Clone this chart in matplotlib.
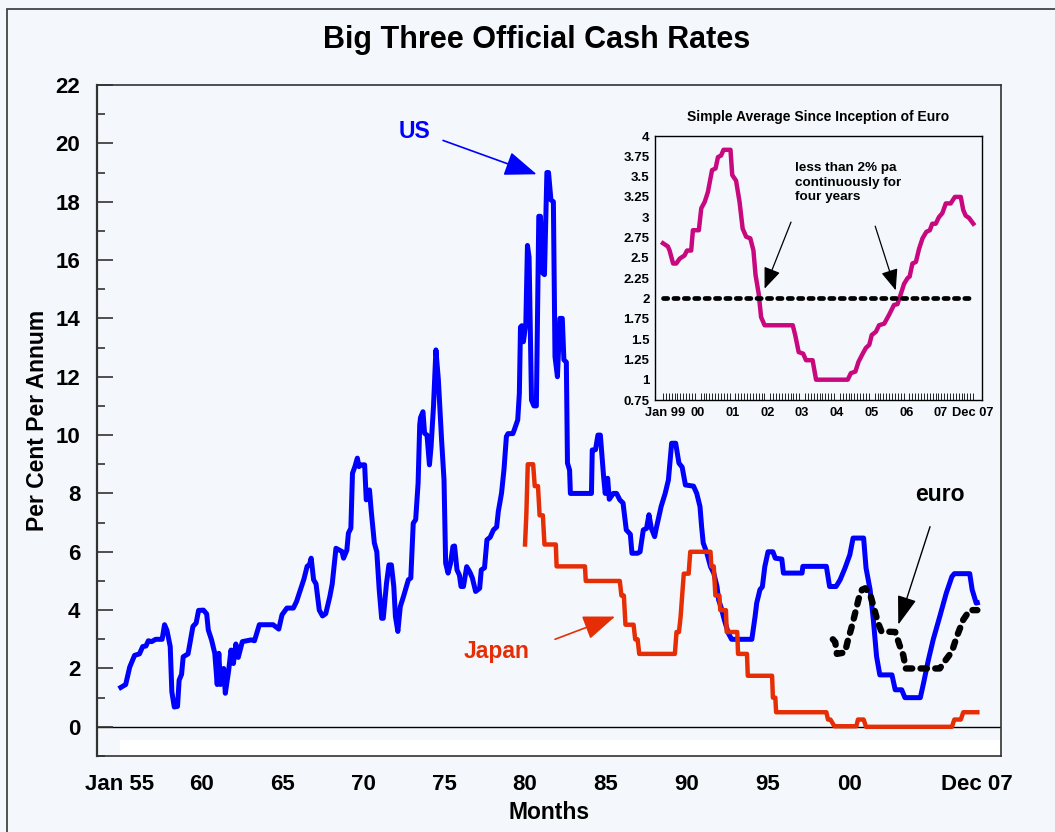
import matplotlib
matplotlib.use("Agg")
import matplotlib.pyplot as plt
from matplotlib.patches import Rectangle
from matplotlib.ticker import FixedLocator

plt.rcParams["font.family"] = ["Liberation Sans", "DejaVu Sans"]
plt.rcParams["font.weight"] = "bold"

BG = "#F4F8FC"
BLUE = "#0000FF"
RED = "#E62E06"
MAGENTA = "#C8087E"

# ---- data (decimal year, per cent) ----
us_t = [1955.05, 1955.35, 1955.6, 1955.9, 1956.2, 1956.4, 1956.6, 1956.75, 1956.95, 1957.2,
        1957.6, 1957.75, 1957.9, 1958.1, 1958.2, 1958.35, 1958.55, 1958.65, 1958.8, 1958.9,
        1959.2, 1959.35, 1959.5, 1959.7, 1959.85, 1960.15, 1960.35, 1960.45, 1960.65, 1960.85,
        1961.0, 1961.1, 1961.2, 1961.4, 1961.5, 1961.7, 1961.85, 1962.0, 1962.15, 1962.3,
        1962.55, 1963.1, 1963.3, 1963.6, 1964.45, 1964.8, 1965.0, 1965.3, 1965.7, 1965.9,
        1966.1, 1966.35, 1966.55, 1966.7, 1966.8, 1966.95, 1967.1, 1967.3, 1967.5, 1967.7,
        1967.95, 1968.1, 1968.33, 1968.7, 1968.8, 1969.0, 1969.1, 1969.25, 1969.35, 1969.5,
        1969.65, 1969.75, 1969.9, 1970.1, 1970.2, 1970.4, 1970.5, 1970.7, 1970.85, 1971.0,
        1971.15, 1971.25, 1971.45, 1971.6, 1971.75, 1971.9, 1972.0, 1972.15, 1972.3, 1972.5,
        1972.8, 1972.95, 1973.1, 1973.25, 1973.4, 1973.5, 1973.55, 1973.7, 1973.8, 1973.95,
        1974.1, 1974.2, 1974.35, 1974.5, 1974.65, 1974.85, 1975.0, 1975.1, 1975.25, 1975.4,
        1975.55, 1975.65, 1975.8, 1975.95, 1976.05, 1976.2, 1976.4, 1976.6, 1976.75, 1976.95,
        1977.2, 1977.3, 1977.5, 1977.65, 1977.85, 1978.05, 1978.25, 1978.35, 1978.55, 1978.7,
        1978.85, 1978.95, 1979.25, 1979.35, 1979.55, 1979.65, 1979.72, 1979.8, 1979.9, 1980.05,
        1980.15, 1980.25, 1980.4, 1980.55, 1980.7, 1980.85, 1980.95, 1981.1, 1981.2, 1981.35,
        1981.45, 1981.6, 1981.75, 1981.85, 1982.0, 1982.15, 1982.3, 1982.4, 1982.55, 1982.62,
        1982.75, 1982.8, 1984.1, 1984.15, 1984.35, 1984.5, 1984.65, 1984.85, 1984.95, 1985.1,
        1985.2, 1985.45, 1985.65, 1985.85, 1986.05, 1986.25, 1986.5, 1986.6, 1986.95, 1987.1,
        1987.3, 1987.5, 1987.65, 1987.8, 1988.0, 1988.1, 1988.4, 1988.65, 1988.85, 1989.05,
        1989.3, 1989.5, 1989.7, 1989.9, 1990.4, 1990.6, 1990.8, 1990.9, 1991.0, 1991.2,
        1991.45, 1991.65, 1991.85, 1991.95, 1992.1, 1992.3, 1992.55, 1992.75, 1994.0, 1994.2,
        1994.3, 1994.5, 1994.65, 1994.8, 1995.0, 1995.3, 1995.45, 1995.85, 1995.95, 1997.1,
        1997.15, 1998.6, 1998.8, 1999.2, 1999.45, 1999.75, 2000.05, 2000.25, 2000.9, 2001.05,
        2001.3, 2001.5, 2001.7, 2001.9, 2002.65, 2002.85, 2003.25, 2003.45, 2004.4, 2004.6,
        2004.9, 2005.2, 2005.6, 2006.0, 2006.35, 2006.5, 2007.45, 2007.6, 2007.85, 2007.92]
us_v = [1.35, 1.45, 2.05, 2.45, 2.5, 2.75, 2.77, 2.95, 2.92, 3.0,
        3.0, 3.5, 3.3, 2.75, 1.2, 0.68, 0.7, 1.6, 1.8, 2.4,
        2.5, 2.98, 3.44, 3.56, 3.99, 4.0, 3.87, 3.32, 2.98, 2.52,
        1.45, 2.52, 1.45, 2.0, 1.15, 1.9, 2.63, 2.17, 2.84, 2.38,
        2.92, 2.98, 2.95, 3.5, 3.5, 3.35, 3.84, 4.07, 4.07, 4.3,
        4.64, 5.06, 5.5, 5.57, 5.78, 5.04, 4.9, 4.0, 3.8, 3.88,
        4.46, 4.9, 6.12, 6.01, 5.78, 6.05, 6.64, 6.81, 8.69, 8.92,
        9.21, 8.92, 8.98, 8.98, 7.78, 8.12, 7.44, 6.3, 6.0, 4.7,
        3.72, 3.72, 4.92, 5.55, 5.55, 4.81, 3.78, 3.27, 4.12, 4.47,
        5.04, 5.1, 6.98, 7.1, 8.35, 10.35, 10.6, 10.8, 10.06, 10.0,
        8.98, 9.6, 10.98, 12.92, 11.9, 9.83, 8.46, 5.61, 5.27, 5.6,
        6.18, 6.2, 5.38, 5.2, 4.81, 4.81, 5.49, 5.3, 5.1, 4.64,
        4.75, 5.38, 5.45, 6.41, 6.5, 6.75, 6.85, 7.38, 8.01, 8.81,
        9.95, 10.05, 10.05, 10.2, 10.52, 11.43, 13.7, 13.75, 13.2, 13.83,
        16.5, 16.1, 11.2, 11.0, 11.0, 17.5, 17.5, 15.55, 15.5, 19.0,
        19.0, 18.06, 18.0, 12.69, 12.0, 14.0, 14.0, 12.58, 12.5, 9.04,
        8.8, 8.0, 8.0, 9.49, 9.5, 10.0, 10.0, 8.58, 8.0, 8.52,
        7.8, 8.0, 8.0, 7.78, 7.67, 6.75, 6.6, 5.95, 5.95, 6.0,
        6.75, 6.8, 7.27, 6.8, 6.52, 6.8, 7.55, 8.0, 8.46, 9.72,
        9.72, 9.04, 8.9, 8.29, 8.25, 8.0, 7.55, 6.86, 6.3, 6.0,
        5.49, 5.27, 4.81, 4.35, 4.1, 3.67, 3.21, 3.0, 3.0, 3.78,
        4.24, 4.7, 4.8, 5.49, 6.0, 6.0, 5.78, 5.75, 5.27, 5.27,
        5.5, 5.5, 4.81, 4.81, 5.04, 5.44, 5.9, 6.47, 6.47, 5.44,
        4.7, 3.67, 2.41, 1.78, 1.78, 1.27, 1.27, 1.0, 1.0, 1.5,
        2.3, 3.0, 3.78, 4.58, 5.15, 5.25, 5.25, 4.7, 4.24, 4.25]

japan_t = [1980.0, 1980.08, 1980.17, 1980.5, 1980.6, 1980.8, 1980.9, 1981.1, 1981.2, 1981.9,
           1981.95, 1983.7, 1983.75, 1985.85, 1985.95, 1986.1, 1986.2, 1986.7, 1986.8, 1986.95,
           1987.05, 1989.25, 1989.35, 1989.5, 1989.6, 1989.7, 1989.8, 1990.1, 1990.2, 1991.45,
           1991.5, 1991.65, 1991.75, 1992.0, 1992.05, 1992.4, 1992.45, 1993.1, 1993.15, 1993.7,
           1993.75, 1995.25, 1995.3, 1995.45, 1995.5, 1998.6, 1998.7, 1998.85, 1999.1, 2000.45,
           2000.55, 2000.9, 2001.05, 2006.35, 2006.5, 2006.9, 2007.05, 2007.92]
japan_v = [6.25, 7.25, 9.0, 9.0, 8.25, 8.25, 7.25, 7.25, 6.25, 6.25,
           5.5, 5.5, 5.0, 5.0, 4.5, 4.5, 3.5, 3.5, 3.0, 3.0,
           2.5, 2.5, 3.25, 3.25, 3.75, 4.5, 5.25, 5.25, 6.0, 6.0,
           5.5, 5.5, 4.5, 4.5, 4.0, 4.0, 3.25, 3.25, 2.5, 2.5,
           1.75, 1.75, 1.0, 1.0, 0.5, 0.5, 0.25, 0.25, 0.02, 0.02,
           0.25, 0.25, 0.0, 0.0, 0.25, 0.25, 0.5, 0.5]

euro_t = [1999.0, 1999.15, 1999.25, 1999.75, 1999.9, 2000.05, 2000.2, 2000.4, 2000.6, 2000.8,
          2001.0, 2001.3, 2001.6, 2001.8, 2002.0, 2002.85, 2003.15, 2003.35, 2003.5, 2005.6,
          2005.9, 2006.35, 2006.65, 2007.05, 2007.45, 2007.92]
euro_v = [3.0, 2.9, 2.5, 2.55, 2.9, 3.2, 3.5, 3.95, 4.4, 4.7,
          4.75, 4.55, 3.95, 3.55, 3.27, 3.25, 2.75, 2.45, 2.0, 2.0,
          2.24, 2.58, 3.09, 3.67, 4.0, 4.0]

# simple average of the three since Jan 99 (inset)
avg_t = [1999.0, 1999.14, 1999.19, 1999.29, 1999.38, 1999.48, 1999.62, 1999.69, 1999.81, 1999.86,
         2000.03, 2000.1, 2000.2, 2000.29, 2000.41, 2000.51, 2000.58, 2000.67, 2000.74, 2000.94,
         2000.99, 2001.1, 2001.2, 2001.29, 2001.39, 2001.51, 2001.6, 2001.66, 2001.75, 2001.82,
         2001.92, 2002.73, 2002.8, 2002.9, 2003.03, 2003.11, 2003.3, 2003.4, 2004.31, 2004.4,
         2004.53, 2004.62, 2004.74, 2004.83, 2004.93, 2005.0, 2005.12, 2005.21, 2005.36, 2005.5,
         2005.64, 2005.74, 2005.84, 2005.93, 2006.03, 2006.09, 2006.17, 2006.27, 2006.36, 2006.46,
         2006.57, 2006.67, 2006.74, 2006.84, 2006.93, 2007.03, 2007.13, 2007.27, 2007.39, 2007.56,
         2007.63, 2007.7, 2007.8, 2007.92]
avg_v = [2.68, 2.64, 2.59, 2.43, 2.43, 2.49, 2.53, 2.59, 2.59, 2.84,
         2.84, 3.11, 3.19, 3.31, 3.58, 3.6, 3.74, 3.76, 3.83, 3.83,
         3.52, 3.45, 3.19, 2.86, 2.76, 2.74, 2.59, 2.29, 2.06, 1.77,
         1.67, 1.67, 1.55, 1.34, 1.32, 1.24, 1.24, 1.0, 1.0, 1.08,
         1.1, 1.22, 1.32, 1.39, 1.43, 1.55, 1.59, 1.67, 1.69, 1.8,
         1.92, 1.93, 2.06, 2.18, 2.25, 2.27, 2.43, 2.45, 2.61, 2.74,
         2.82, 2.84, 2.92, 2.92, 3.0, 3.05, 3.17, 3.17, 3.25, 3.25,
         3.09, 3.02, 2.99, 2.92]
threshold = 2.0

x_ticks = [1955, 1960, 1965, 1970, 1975, 1980, 1985, 1990, 1995, 2000, 2007.92]
x_labels = ["Jan 55", "60", "65", "70", "75", "80", "85", "90", "95", "00", "Dec 07"]
y_ticks = list(range(0, 23, 2))

in_x_ticks = [1999.05, 2000, 2001, 2002, 2003, 2004, 2005, 2006, 2006.98, 2007.9]
in_x_labels = ["Jan 99", "00", "01", "02", "03", "04", "05", "06", "07", "Dec 07"]
in_y_ticks = [0.75, 1, 1.25, 1.5, 1.75, 2, 2.25, 2.5, 2.75, 3, 3.25, 3.5, 3.75, 4]
in_y_labels = ["0.75", "1", "1.25", "1.5", "1.75", "2", "2.25", "2.5", "2.75", "3",
               "3.25", "3.5", "3.75", "4"]

W, H = 1055, 832
fig = plt.figure(figsize=(W / 100, H / 100), dpi=100)
fig.patch.set_facecolor(BG)
fig.patches.append(Rectangle((7 / W, -0.05), 1.2, 1 - 9 / H + 0.05, transform=fig.transFigure,
                             fill=False, edgecolor="#444444", lw=1.3))

ax = fig.add_axes([97 / W, 1 - 756 / H, (1001 - 97) / W, (756 - 85) / H])
ax.set_facecolor(BG)
ax.set_xlim(1953.58, 2009.38)
ax.set_ylim(-1, 22)
ax.axhspan(-0.97, -0.45, xmin=(120 - 97) / 904, xmax=(1000 - 97) / 904, color="white", lw=0, zorder=0)
ax.axhline(0, color="black", lw=1.0, zorder=1)

ax.plot(us_t, us_v, color=BLUE, lw=3.6, solid_joinstyle="round", zorder=3)
ax.plot(japan_t, japan_v, color=RED, lw=3.2, zorder=3)
ax.plot(euro_t, euro_v, color="black", lw=4.6, linestyle=(0, (1.0, 1.3)),
        dash_capstyle="round", zorder=4)

ax.set_xticks(x_ticks)
ax.set_xticklabels(x_labels)
ax.set_yticks(y_ticks)
ax.yaxis.set_minor_locator(FixedLocator(list(range(-1, 22, 2))))
ax.tick_params(axis="x", length=0, pad=13, labelsize=16)
ax.tick_params(axis="y", which="major", direction="in", length=11.5, width=1.2,
               pad=12, labelsize=16, color="#333333")
ax.tick_params(axis="y", which="minor", direction="in", length=5.8, width=1.2, color="#333333")
for lab in ax.get_xticklabels() + ax.get_yticklabels():
    lab.set_fontweight("bold")
for s in ax.spines.values():
    s.set_color("#333333")
    s.set_linewidth(1.2)
ax.spines["left"].set_linewidth(1.6)

ax.set_xlabel("Months", fontsize=16.5, fontweight="bold", labelpad=4)
ax.set_ylabel("Per Cent Per Annum", fontsize=16.5, fontweight="bold", labelpad=5)
fig.text(537 / W, 1 - 40 / H, "Big Three Official Cash Rates", ha="center", va="center",
         fontsize=22, fontweight="bold")

# series labels with pointer arrows
big_head = "-|>,head_length=1.0,head_width=0.38"
ax.text(1973.2, 20.4, "US", color=BLUE, fontsize=16.5, fontweight="bold", ha="center", va="center")
ax.annotate("", xy=(1980.72, 18.94), xytext=(1974.94, 20.1),
            arrowprops=dict(arrowstyle=big_head, color=BLUE, lw=1.2, mutation_scale=20,
                            shrinkA=0, shrinkB=0))
ax.text(1978.27, 2.57, "Japan", color=RED, fontsize=16.5, fontweight="bold", ha="center", va="center")
ax.annotate("", xy=(1985.56, 3.78), xytext=(1981.85, 3.0),
            arrowprops=dict(arrowstyle=big_head, color=RED, lw=1.2, mutation_scale=20,
                            shrinkA=0, shrinkB=0))
ax.text(2005.6, 7.98, "euro", color="black", fontsize=16.5, fontweight="bold", ha="center", va="center")
ax.annotate("", xy=(2003.04, 3.5), xytext=(2005.0, 6.86),
            arrowprops=dict(arrowstyle="-|>,head_length=0.9,head_width=0.3", color="black",
                            lw=1.0, mutation_scale=20, shrinkA=0, shrinkB=0))

# ---- inset ----
ax_in = fig.add_axes([655 / W, 1 - 400 / H, (982 - 655) / W, (400 - 136) / H])
ax_in.set_facecolor(BG)
ax_in.set_xlim(1998.77, 2008.17)
ax_in.set_ylim(0.75, 4)
ax_in.plot(avg_t, avg_v, color=MAGENTA, lw=3.2, zorder=3)
ax_in.plot([avg_t[0], avg_t[-1]], [threshold, threshold], color="black", lw=3.4,
           linestyle=(0, (0.9, 1.3)), dash_capstyle="round", zorder=4)
ax_in.set_title("Simple Average Since Inception of Euro", fontsize=10, fontweight="bold", pad=11)
ax_in.set_xticks(in_x_ticks)
ax_in.set_xticklabels(in_x_labels)
ax_in.set_yticks(in_y_ticks)
ax_in.set_yticklabels(in_y_labels)
ax_in.xaxis.set_minor_locator(FixedLocator([1999 + k / 12 for k in range(108)]))
ax_in.tick_params(axis="x", which="major", length=0, pad=5, labelsize=9.3)
ax_in.tick_params(axis="x", which="minor", direction="in", length=5, width=0.6)
ax_in.tick_params(axis="y", length=0, pad=4, labelsize=9.5)
for lab in ax_in.get_xticklabels() + ax_in.get_yticklabels():
    lab.set_fontweight("bold")
for s in ax_in.spines.values():
    s.set_color("black")
    s.set_linewidth(1.0)

ax_in.text(2002.79, 3.68, "less than 2% pa\ncontinuously for\nfour years", fontsize=9.7,
           fontweight="bold", ha="left", va="top", linespacing=1.3)
arrow_kw = dict(arrowstyle="-|>,head_length=1.0,head_width=0.4", color="black", lw=0.9,
                mutation_scale=13, shrinkA=0, shrinkB=0)
ax_in.annotate("", xy=(2001.92, 2.12), xytext=(2002.68, 2.94), arrowprops=arrow_kw)
ax_in.annotate("", xy=(2005.69, 2.1), xytext=(2005.1, 2.89), arrowprops=arrow_kw)

fig.savefig("out.png", dpi=100, facecolor=BG)
